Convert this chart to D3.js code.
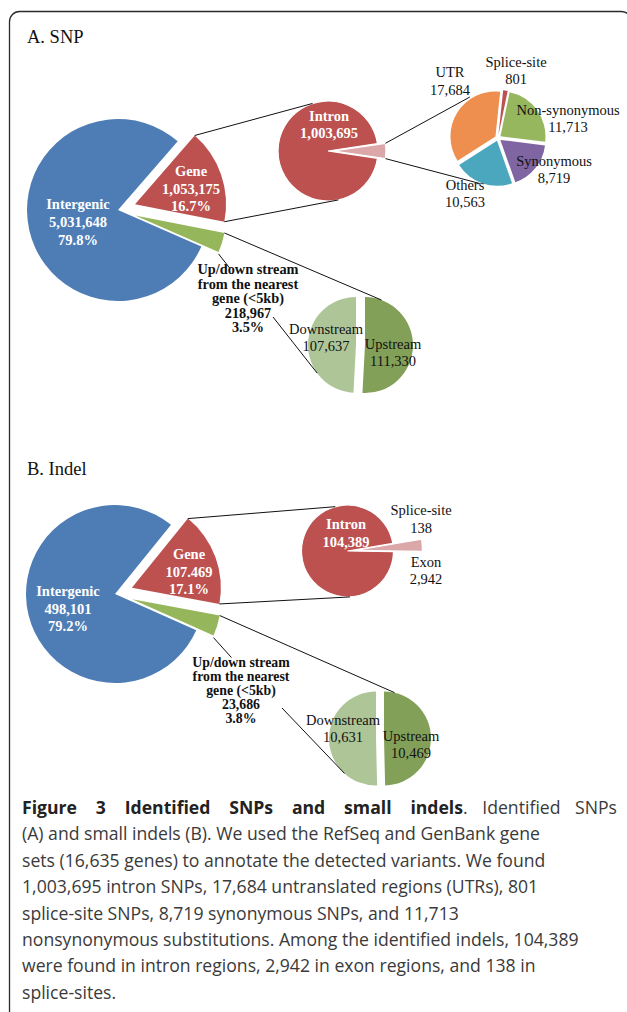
<!DOCTYPE html>
<html><head><meta charset="utf-8">
<script src="https://cdn.jsdelivr.net/npm/d3@7"></script>
<style>html,body{margin:0;padding:0;background:#fff;} svg{display:block}</style>
</head><body>
<svg id="c" width="627" height="1012"></svg>
<script>
// ---------------- DATA ----------------
// A. SNP
const snpTopCats = ["Gene", "Up/down stream", "Intergenic"];
const snpTopValues = [1053175, 218967, 5031648];
const snpTopLabels = [["Gene", "1,053,175", "16.7%"], ["Up/down stream", "from the nearest", "gene (<5kb)", "218,967", "3.5%"], ["Intergenic", "5,031,648", "79.8%"]];
const snpGeneCats = ["Exonic", "Intron"];
const snpGeneValues = [49480, 1003695];
const snpIntronLabel = ["Intron", "1,003,695"];
const snpExonCats = ["Splice-site", "Non-synonymous", "Synonymous", "Others", "UTR"];
const snpExonValues = [801, 11713, 8719, 10563, 17684];
const snpExonLabels = [["Splice-site", "801"], ["Non-synonymous", "11,713"], ["Synonymous", "8,719"], ["Others", "10,563"], ["UTR", "17,684"]];
const snpStreamCats = ["Upstream", "Downstream"];
const snpStreamValues = [111330, 107637];
const snpStreamLabels = [["Upstream", "111,330"], ["Downstream", "107,637"]];
// B. Indel
const indelTopCats = ["Gene", "Up/down stream", "Intergenic"];
const indelTopValues = [107469, 23686, 498101];
const indelTopLabels = [["Gene", "107.469", "17.1%"], ["Up/down stream", "from the nearest", "gene (<5kb)", "23,686", "3.8%"], ["Intergenic", "498,101", "79.2%"]];
const indelGeneCats = ["Exonic", "Intron"];
const indelGeneValues = [3080, 104389];
const indelIntronLabel = ["Intron", "104,389"];
const indelExonCats = ["Splice-site", "Exon"];
const indelExonValues = [138, 2942];
const indelExonLabels = [["Splice-site", "138"], ["Exon", "2,942"]];
const indelStreamCats = ["Upstream", "Downstream"];
const indelStreamValues = [10469, 10631];
const indelStreamLabels = [["Upstream", "10,469"], ["Downstream", "10,631"]];

const captionBold = "Figure 3 Identified SNPs and small indels";
const captionLines = [
  ". Identified SNPs",
  "(A) and small indels (B). We used the RefSeq and GenBank gene",
  "sets (16,635 genes) to annotate the detected variants. We found",
  "1,003,695 intron SNPs, 17,684 untranslated regions (UTRs), 801",
  "splice-site SNPs, 8,719 synonymous SNPs, and 11,713",
  "nonsynonymous substitutions. Among the identified indels, 104,389",
  "were found in intron regions, 2,942 in exon regions, and 138 in",
  "splice-sites."
];

// ---------------- STYLE ----------------
const topColor = d3.scaleOrdinal().domain(["Gene", "Up/down stream", "Intergenic"]).range(["#BC5150", "#96B65B", "#4E7DB6"]);
const geneColor = d3.scaleOrdinal().domain(["Exonic", "Intron"]).range(["#DBA7A8", "#BC5150"]);
const exonColor = d3.scaleOrdinal().domain(["Splice-site", "Non-synonymous", "Synonymous", "Others", "UTR"]).range(["#BC5150", "#97B75E", "#7F65A1", "#4AA7BD", "#EF8F4F"]);
const streamColor = d3.scaleOrdinal().domain(["Upstream", "Downstream"]).range(["#83A059", "#AEC598"]);

const svg = d3.select("#c");
const rad = Math.PI / 180;
const serif = "'Liberation Serif','Times New Roman',serif";

function pt(c, r, aDeg) { const a = aDeg * rad; return [c[0] + r * Math.sin(a), c[1] - r * Math.cos(a)]; }

function drawPie(values, cats, color, o) {
  const s = o.start * rad;
  const pie = d3.pie().sort(null).value(d => d).startAngle(s).endAngle(s + 2 * Math.PI);
  const arcs = pie(values);
  arcs.forEach((a, i) => {
    const ex = (o.explode && o.explode[i]) || 0;
    const mid = (a.startAngle + a.endAngle) / 2;
    a.cx = o.center[0] + ex * Math.sin(mid);
    a.cy = o.center[1] - ex * Math.cos(mid);
    a.r = (o.radii && o.radii[i]) || o.r;
    a.cat = cats[i];
  });
  svg.append("g").selectAll("path").data(arcs).join("path")
    .attr("transform", d => `translate(${d.cx},${d.cy})`)
    .attr("d", d => d3.arc().innerRadius(0).outerRadius(d.r)(d))
    .attr("fill", d => color(d.cat))
    .attr("stroke", o.stroke || "none")
    .attr("stroke-width", o.sw || 0);
  return arcs;
}
function arcEnd(a, which) {
  const ang = which === "start" ? a.startAngle : a.endAngle;
  return [a.cx + a.r * Math.sin(ang), a.cy - a.r * Math.cos(ang)];
}
function slicePoint(a, angDeg, r) { return pt([a.cx, a.cy], r == null ? a.r : r, angDeg); }

function label(lines, x, y0, dy, o) {
  const t = svg.append("text")
    .attr("font-family", serif)
    .attr("font-size", o.size || 14.5)
    .attr("font-weight", o.bold ? "bold" : "normal")
    .attr("fill", o.fill || "#111")
    .attr("text-anchor", "middle");
  lines.forEach((l, i) => t.append("tspan").attr("x", x).attr("y", y0 + i * dy).text(l));
}
function line(p, q) {
  svg.append("path").attr("d", d3.line()([p, q])).attr("stroke", "#111").attr("stroke-width", 1).attr("fill", "none");
}

// ---------------- FRAME ----------------
svg.append("rect").attr("x", 9.5).attr("y", 11.5).attr("width", 622).attr("height", 1100)
  .attr("rx", 10).attr("fill", "none").attr("stroke", "#2a2a2a").attr("stroke-width", 1.3);

svg.append("text").attr("x", 27).attr("y", 43).attr("font-family", serif).attr("font-size", 18.5).attr("fill", "#111").text("A. SNP");
svg.append("text").attr("x", 27).attr("y", 475).attr("font-family", serif).attr("font-size", 18.5).attr("fill", "#111").text("B. Indel");

// ---------------- A. SNP ----------------
{
  const top = drawPie(snpTopValues, snpTopCats, topColor, { center: [118, 210], r: 91, start: 41, explode: [18, 18, 0] });
  const gene = drawPie(snpGeneValues, snpGeneCats, geneColor, { center: [328, 151], r: 50, radii: [52, 50], start: 81.5, explode: [6, 0], stroke: "#fff", sw: 1.2 });
  const exon = drawPie(snpExonValues, snpExonCats, exonColor, { center: [498, 138], r: 45, start: 6, explode: [3, 3, 3, 3, 3] });
  const stream = drawPie(snpStreamValues, snpStreamCats, streamColor, { center: [360.5, 345], r: 48, start: 0, explode: [4.5, 4.5] });

  line(arcEnd(top[0], "start"), slicePoint(gene[1], -18));
  line(arcEnd(top[0], "end"), slicePoint(gene[1], 168));
  line(arcEnd(gene[0], "start"), slicePoint(exon[4], -33, 47));
  line(arcEnd(gene[0], "end"), slicePoint(exon[3], 202, 46));
  line(arcEnd(top[1], "start"), slicePoint(stream[0], 20));
  const ge = arcEnd(top[1], "end");
  line([ge[0], ge[1] + 2], [ge[0] + 11, ge[1] + 16]);
  line([273, 317], slicePoint(stream[1], 234));

  label(snpTopLabels[0], 191, 176, 17.5, { bold: true, fill: "#fff" });
  label(snpTopLabels[2], 78, 209, 18, { bold: true, fill: "#fff" });
  label(snpTopLabels[1], 248, 274, 14.5, { bold: true, size: 14.3 });
  label(snpIntronLabel, 329, 121, 17, { bold: true, fill: "#fff" });
  label(snpExonLabels[0], 516, 67, 17, {});
  label(snpExonLabels[1], 568, 115, 17, {});
  label(snpExonLabels[2], 554, 166, 16.5, {});
  label(snpExonLabels[3], 465, 190, 17, {});
  label(snpExonLabels[4], 450, 77, 18, {});
  label(snpStreamLabels[1], 326, 334, 17, {});
  label(snpStreamLabels[0], 393, 349, 17, {});
}

// ---------------- B. Indel ----------------
{
  const top = drawPie(indelTopValues, indelTopCats, topColor, { center: [115, 594], r: 89, start: 39, explode: [18, 18, 0] });
  const gene = drawPie(indelGeneValues, indelGeneCats, geneColor, { center: [347.5, 551], r: 46, radii: [68, 46], start: 80.5, explode: [7, 0], stroke: "#fff", sw: 1.2 });
  const stream = drawPie(indelStreamValues, indelStreamCats, streamColor, { center: [380, 738.5], r: 47, start: 0, explode: [4, 4] });

  line(arcEnd(top[0], "start"), slicePoint(gene[1], -15.5));
  line(arcEnd(top[0], "end"), slicePoint(gene[1], 177));
  line(arcEnd(top[1], "start"), slicePoint(stream[0], 13));
  const ge = arcEnd(top[1], "end");
  line([ge[0], ge[1] + 2], [ge[0] + 18, ge[1] + 22]);
  line([282, 708], slicePoint(stream[1], 222));

  label(indelTopLabels[0], 189, 559, 17.5, { bold: true, fill: "#fff" });
  label(indelTopLabels[2], 68, 596, 17.5, { bold: true, fill: "#fff" });
  label(indelTopLabels[1], 241, 667, 14, { bold: true, size: 13.8 });
  label(indelIntronLabel, 346, 529, 18, { bold: true, fill: "#fff" });
  label(indelExonLabels[0], 421, 515, 18, {});
  label(indelExonLabels[1], 426, 567, 16.5, {});
  label(indelStreamLabels[1], 343, 725, 17, {});
  label(indelStreamLabels[0], 411, 741, 17, {});
}

// ---------------- CAPTION ----------------
{
  const sans = "'Open Sans','Noto Sans',sans-serif";
  const x0 = 22, base0 = 814, step = 26.4;
  const probe = svg.append("text").attr("font-family", sans).attr("font-size", 20).text(captionLines[1]);
  const w = probe.node().getComputedTextLength();
  probe.remove();
  const fs = 20 * (540 - x0) / w;
  // bold lead-in, spread to reach ~x=463
  const tb = svg.append("text").attr("x", x0).attr("y", base0).attr("font-family", sans)
    .attr("font-size", fs).attr("font-weight", "bold").attr("fill", "#222").text(captionBold);
  const nb = tb.node().getComputedTextLength();
  const sb = captionBold.split(" ").length - 1;
  tb.attr("word-spacing", Math.max(0, (463 - x0 - nb) / sb));
  const xr = x0 + tb.node().getComputedTextLength();
  const tr = svg.append("text").attr("x", xr).attr("y", base0).attr("font-family", sans)
    .attr("font-size", fs).attr("fill", "#3a3a3a").text(captionLines[0]);
  const nr = tr.node().getComputedTextLength();
  tr.attr("word-spacing", Math.max(0, (617 - xr - nr) / 2));
  captionLines.slice(1).forEach((l, i) => {
    svg.append("text").attr("x", x0).attr("y", base0 + (i + 1) * step)
      .attr("font-family", sans).attr("font-size", fs).attr("fill", "#3a3a3a").text(l);
  });
}
</script>
</body></html>
